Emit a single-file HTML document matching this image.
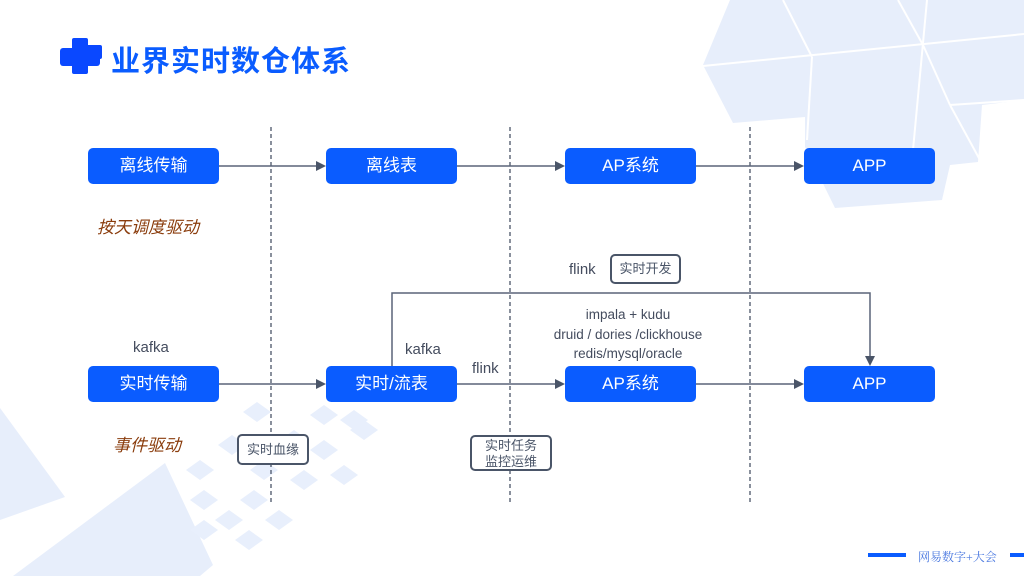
<!DOCTYPE html>
<html><head><meta charset="utf-8"><style>
html,body{margin:0;padding:0;}
body{width:1024px;height:576px;position:relative;overflow:hidden;background:#fff;font-family:"Liberation Sans","Noto Sans CJK SC",sans-serif;}
.b{position:absolute;width:131px;height:36px;background:#0a5cff;border-radius:5px;color:#fff;font-size:17px;line-height:36px;text-align:center;}
.t{position:absolute;color:#444c5e;font-size:15px;white-space:nowrap;}
.lb{position:absolute;border:2px solid #4a5568;border-radius:5px;background:#fff;color:#4a5568;font-size:13px;text-align:center;line-height:16px;box-sizing:border-box;}
.it{position:absolute;color:#8a3c0c;font-style:italic;font-size:17px;}
</style></head><body>
<svg width="1024" height="576" style="position:absolute;left:0;top:0">
<g fill="#e7eefb">
<polygon points="705,0 1024,0 1024,100 982,105 978,162 950,165 942,200 835,208 805,147 805,117 733,123 703,65 730,0"/>
<polygon points="0,408 65,497 0,520"/>
<polygon points="13,576 165,463 213,565 200,576"/>
</g>
<g stroke="#fff" stroke-width="2" fill="none">
<line x1="703" y1="66" x2="1024" y2="34"/>
<line x1="783" y1="0" x2="812" y2="57"/>
<line x1="898" y1="0" x2="923" y2="45"/>
<line x1="927" y1="0" x2="913" y2="150"/>
<line x1="812" y1="57" x2="807" y2="140"/>
<line x1="923" y1="45" x2="950" y2="105"/>
<line x1="950" y1="105" x2="1024" y2="100"/>
<line x1="950" y1="105" x2="980" y2="160"/>
</g>
<g fill="#e8effc">
<polygon points="243,412 257,402 271,412 257,422"/>
<polygon points="310,415 324,405 338,415 324,425"/>
<polygon points="280,440 294,430 308,440 294,450"/>
<polygon points="218,445 232,435 246,445 232,455"/>
<polygon points="310,450 324,440 338,450 324,460"/>
<polygon points="350,430 364,420 378,430 364,440"/>
<polygon points="186,470 200,460 214,470 200,480"/>
<polygon points="250,470 264,460 278,470 264,480"/>
<polygon points="290,480 304,470 318,480 304,490"/>
<polygon points="330,475 344,465 358,475 344,485"/>
<polygon points="190,500 204,490 218,500 204,510"/>
<polygon points="240,500 254,490 268,500 254,510"/>
<polygon points="215,520 229,510 243,520 229,530"/>
<polygon points="190,530 204,520 218,530 204,540"/>
<polygon points="235,540 249,530 263,540 249,550"/>
<polygon points="340,420 354,410 368,420 354,430"/>
<polygon points="265,520 279,510 293,520 279,530"/>
</g>
<g stroke="#4a5568" stroke-width="1.3" stroke-dasharray="4,3">
<line x1="271" y1="127" x2="271" y2="505"/>
<line x1="510" y1="127" x2="510" y2="505"/>
<line x1="750" y1="127" x2="750" y2="505"/>
</g>
<g stroke="#5a6478" stroke-width="1.5" fill="none">
<line x1="219" y1="166" x2="318" y2="166"/>
<line x1="457" y1="166" x2="557" y2="166"/>
<line x1="696" y1="166" x2="796" y2="166"/>
<line x1="219" y1="384" x2="318" y2="384"/>
<line x1="457" y1="384" x2="557" y2="384"/>
<line x1="696" y1="384" x2="796" y2="384"/>
<polyline points="392,366 392,293 870,293 870,358"/>
</g>
<g fill="#4a5568">
<polygon points="326,166 316,161 316,171"/>
<polygon points="565,166 555,161 555,171"/>
<polygon points="804,166 794,161 794,171"/>
<polygon points="326,384 316,379 316,389"/>
<polygon points="565,384 555,379 555,389"/>
<polygon points="804,384 794,379 794,389"/>
<polygon points="870,366 865,356 875,356"/>
</g>
<g fill="#0a48ff">
<rect x="72" y="38" width="16" height="36" rx="2"/>
<rect x="60" y="48" width="40" height="18" rx="3"/>
<rect x="82" y="45" width="20" height="14" rx="2"/>
</g>
<rect x="868" y="553" width="38" height="4" fill="#0a5cff"/>
<rect x="1010" y="553" width="14" height="4" fill="#0a5cff"/>
</svg>
<div style="position:absolute;left:111px;top:38px;font-size:29px;font-weight:bold;color:#0a5cff;letter-spacing:1px;">业界实时数仓体系</div>
<div class="b" style="left:88px;top:148px">离线传输</div>
<div class="b" style="left:326px;top:148px">离线表</div>
<div class="b" style="left:565px;top:148px">AP系统</div>
<div class="b" style="left:804px;top:148px">APP</div>
<div class="b" style="left:88px;top:366px">实时传输</div>
<div class="b" style="left:326px;top:366px">实时/流表</div>
<div class="b" style="left:565px;top:366px">AP系统</div>
<div class="b" style="left:804px;top:366px">APP</div>
<div class="it" style="left:97px;top:213px">按天调度驱动</div>
<div class="it" style="left:113px;top:431px">事件驱动</div>
<div class="t" style="left:133px;top:339px">kafka</div>
<div class="t" style="left:405px;top:341px">kafka</div>
<div class="t" style="left:472px;top:360px">flink</div>
<div class="t" style="left:569px;top:261px">flink</div>
<div class="t" style="left:542px;top:305px;font-size:13.5px;line-height:19.5px;text-align:center;width:172px">impala + kudu<br>druid / dories /clickhouse<br>redis/mysql/oracle</div>
<div class="lb" style="left:610px;top:254px;width:71px;height:30px;line-height:26px">实时开发</div>
<div class="lb" style="left:237px;top:434px;width:72px;height:31px;line-height:27px">实时血缘</div>
<div class="lb" style="left:470px;top:435px;width:82px;height:36px;padding-top:1px">实时任务<br>监控运维</div>
<div style="position:absolute;left:918px;top:548px;font-size:12px;color:#4a78e0;font-family:'Liberation Serif','Noto Serif CJK SC',serif">网易数字+大会</div>
</body></html>
